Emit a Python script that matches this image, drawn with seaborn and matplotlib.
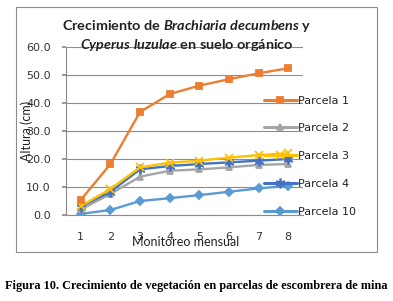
import matplotlib
matplotlib.use("Agg")
import matplotlib.pyplot as plt
import seaborn as sns
import pandas as pd
from matplotlib.patches import Rectangle

months = [1, 2, 3, 4, 5, 6, 7, 8]
parcela_1 = [5.4, 18.2, 36.8, 43.2, 46.2, 48.5, 50.6, 52.4]
parcela_2 = [2.0, 7.5, 13.7, 15.8, 16.3, 17.0, 17.9, 18.2]
parcela_3 = [3.2, 9.3, 17.0, 18.7, 19.4, 20.5, 21.4, 22.0]
parcela_4 = [3.0, 8.3, 16.3, 17.5, 18.2, 18.8, 19.4, 20.0]
parcela_10 = [0.4, 1.8, 5.0, 6.0, 7.1, 8.3, 9.5, 10.4]
series_names = ["Parcela 1", "Parcela 2", "Parcela 3", "Parcela 4", "Parcela 10"]
y_ticks = [0, 10, 20, 30, 40, 50, 60]

colors = ["#ED7D31", "#A5A5A5", "#FFC000", "#4472C4", "#5B9BD5"]
markers = ["s", "^", "x", (6, 2, 0), "D"]
msizes = [5, 5, 6, 7, 4.5]

series_vals = [parcela_1, parcela_2, parcela_3, parcela_4, parcela_10]

sns.set_theme(style="white")
plt.rcParams["font.family"] = ["Lato", "DejaVu Sans"]

W, H = 393, 301
fig = plt.figure(figsize=(W / 100, H / 100), dpi=100)
fig.patch.set_facecolor("white")

fig.patches.append(Rectangle((16 / W, 1 - 252 / H), (377 - 16) / W, (252 - 7) / H,
                             transform=fig.transFigure, fill=False,
                             edgecolor="#8c8c8c", linewidth=0.8))

ax = fig.add_axes([66 / W, 1 - 215 / H, (303 - 66) / W, (215 - 47) / H])

for i in [4, 1, 3, 2, 0]:
    d = pd.DataFrame({"Mes": months, "Altura": series_vals[i]})
    sns.lineplot(data=d, x="Mes", y="Altura", color=colors[i], marker=markers[i],
                 markersize=msizes[i], markeredgewidth=1.3, markeredgecolor=colors[i],
                 markerfacecolor=colors[i], linewidth=1.7, ax=ax, zorder=3)

ax.set_xlim(0.5, 8.5)
ax.set_ylim(0, 60)
ax.set_yticks(y_ticks)
ax.set_yticklabels([f"{t:.1f}" for t in y_ticks], family=["DejaVu Sans"])
ax.set_xticks(months)
ax.set_xticklabels([str(m) for m in months], family=["DejaVu Sans"])
ax.grid(axis="y", color="#8c8c8c", linewidth=0.8)
ax.set_axisbelow(True)
for s in ["top", "right"]:
    ax.spines[s].set_visible(False)
for s in ["left", "bottom"]:
    ax.spines[s].set_color("#8c8c8c")
    ax.spines[s].set_linewidth(0.8)
ax.tick_params(axis="y", left=True, length=3, color="#8c8c8c", labelsize=8,
               labelcolor="#333333", pad=8)
ax.tick_params(axis="x", bottom=False, labelsize=8, labelcolor="#333333", pad=6)
ax.set_xlabel("")
ax.set_ylabel("")

fig.text(27 / W, 1 - 131 / H, "Altura (cm)", rotation=90, ha="center", va="center",
         fontsize=9, color="#222222")
fig.text(186 / W, 1 - 242 / H, "Monitoreo mensual", ha="center", va="center",
         fontsize=9, color="#222222")

handles = [plt.Line2D([], [], color=c, marker=m, linewidth=2.2, markersize=ms,
                      markerfacecolor=c, markeredgecolor=c, markeredgewidth=1.3)
           for c, m, ms in zip(colors, markers, msizes)]
leg = fig.legend(handles, series_names, loc="upper left",
                 bbox_to_anchor=(258 / W, 1 - 90 / H), frameon=False,
                 prop={"family": ["DejaVu Sans"], "size": 8},
                 handlelength=3.0, handletextpad=0.1,
                 labelspacing=1.6, borderpad=0)
for t in leg.get_texts():
    t.set_color("#222222")

plt.rcParams["mathtext.fontset"] = "custom"
plt.rcParams["mathtext.it"] = "Lato:italic:bold"
plt.rcParams["mathtext.rm"] = "Lato:bold"
fig.text(187 / W, 1 - 26 / H, r"Crecimiento de $\it{Brachiaria\ decumbens}$ y",
         ha="center", va="center", fontsize=10.4, fontweight="bold", color="#222222")
fig.text(187 / W, 1 - 45 / H, r"$\it{Cyperus\ luzulae}$ en suelo orgánico",
         ha="center", va="center", fontsize=10.4, fontweight="bold", color="#222222")

fig.text(196 / W, 1 - 286 / H,
         "Figura 10. Crecimiento de vegetación en parcelas de escombrera de mina",
         ha="center", va="center", fontsize=8.8, fontweight="bold",
         family=["Liberation Serif"], color="black")

fig.savefig("out.png", dpi=100, facecolor="white")
